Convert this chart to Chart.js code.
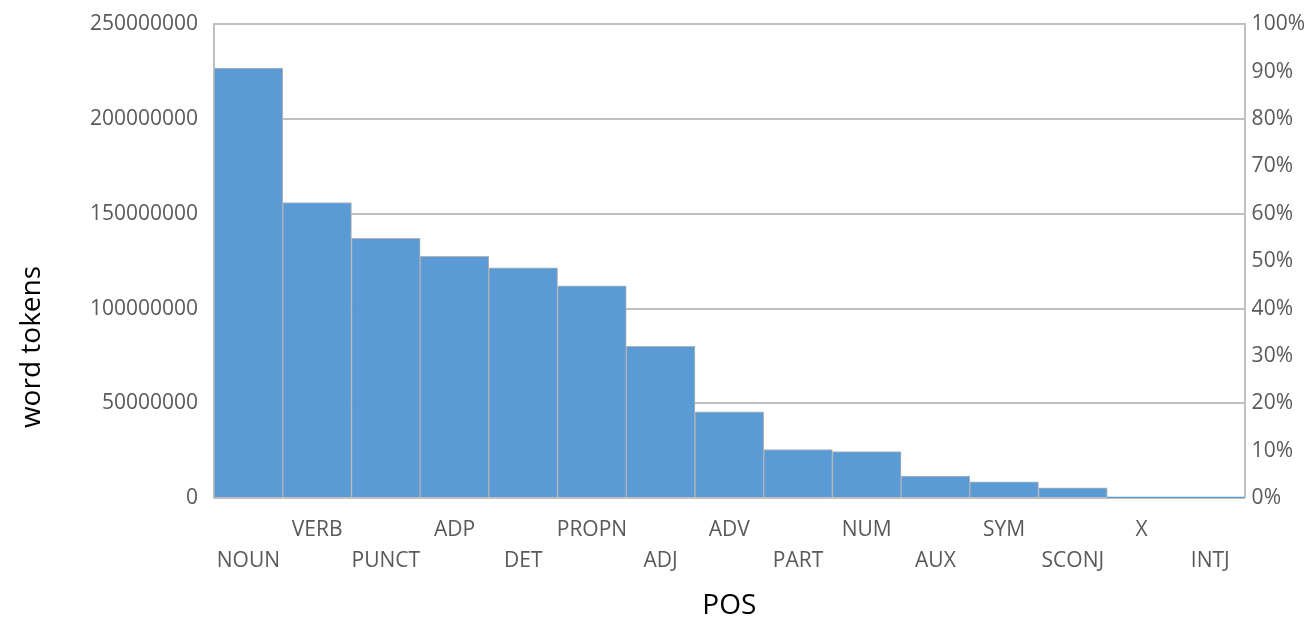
<!DOCTYPE html>
<html>
<head>
<meta charset="utf-8">
<script src="https://cdn.jsdelivr.net/npm/chart.js@4"></script>
<style>
  body { margin: 0; background: #fff; }
  #wrap { width: 1314px; height: 619px; }
</style>
</head>
<body>
<div id="wrap"><canvas id="pos-chart"></canvas></div>
<script>
// data
var categories = ['NOUN', 'VERB', 'PUNCT', 'ADP', 'DET', 'PROPN', 'ADJ', 'ADV', 'PART', 'NUM', 'AUX', 'SYM', 'SCONJ', 'X', 'INTJ'];
var tokens = [227000000, 156000000, 137000000, 127500000, 121500000, 112000000, 80000000, 45500000, 25500000, 24500000, 11500000, 8500000, 5300000, 100000, 50000];
var leftTicks = [0, 50000000, 100000000, 150000000, 200000000, 250000000];
var rightTicks = [0, 0.1, 0.2, 0.3, 0.4, 0.5, 0.6, 0.7, 0.8, 0.9, 1];

var gridGray = '#bfbfbf';
// small lineHeight only trims the space Chart.js keeps above the top label
var tickFont = { family: 'Open Sans', size: 21, lineHeight: 0.8 };

// the y title sits lower than the plot centre in the original,
// so it is drawn here instead of with the axis title option
var yTitlePlugin = {
    id: 'yTitle',
    afterDraw: function(chart) {
        var c = chart.ctx;
        c.save();
        c.translate(32, 347);
        c.rotate(-Math.PI / 2);
        c.font = '28px "Open Sans"';
        c.fillStyle = '#000';
        c.textAlign = 'center';
        c.textBaseline = 'middle';
        c.fillText('word tokens', 0, 0);
        c.restore();
    }
};

var ctx = document.getElementById('pos-chart').getContext('2d');
var chart = new Chart(ctx, {
    type: 'bar',
    data: {
        labels: categories,
        datasets: [{
            label: 'word tokens',
            data: tokens,
            backgroundColor: '#5b9bd5',
            borderColor: '#b4b4b4',
            // the tiny X / INTJ bars don't show up in the original
            borderWidth: function(c) { return c.raw < 1000000 ? 0 : 1; },
            categoryPercentage: 1,
            barPercentage: 1,
            yAxisID: 'y'
        }]
    },
    options: {
        responsive: true,
        maintainAspectRatio: false,
        animation: false,
        layout: { padding: { top: 0, right: 2, left: 74, bottom: 0 } },
        plugins: {
            legend: { display: false },
            tooltip: { enabled: false }
        },
        scales: {
            x: {
                grid: { display: false, drawTicks: false },
                border: { display: true, color: gridGray, width: 2 },
                ticks: {
                    color: '#595959',
                    font: { family: 'Open Sans', size: 21, lineHeight: 1.5 },
                    autoSkip: false,
                    maxRotation: 0,
                    padding: 16,
                    callback: function(value, index) {
                        var name = categories[index];
                        // staggered labels like the original
                        return index % 2 === 0 ? ['', name] : [name, ''];
                    }
                },
                title: {
                    display: true,
                    text: 'POS',
                    color: '#000',
                    font: { family: 'Open Sans', size: 28, lineHeight: 0.93 },
                    padding: 0
                }
            },
            y: {
                position: 'left',
                min: 0,
                max: 250000000,
                afterBuildTicks: function(axis) {
                    axis.ticks = leftTicks.map(function(v) { return { value: v }; });
                },
                grid: { color: gridGray, lineWidth: 2, drawTicks: false },
                border: { display: true, color: gridGray, width: 2 },
                ticks: {
                    color: '#595959',
                    font: tickFont,
                    padding: 16,
                    callback: function(v) { return String(v); }
                }
            },
            y1: {
                position: 'right',
                min: 0,
                max: 1,
                afterBuildTicks: function(axis) {
                    axis.ticks = rightTicks.map(function(v) { return { value: v }; });
                },
                grid: { display: false, drawTicks: false },
                border: { display: true, color: gridGray, width: 2 },
                ticks: {
                    color: '#595959',
                    font: tickFont,
                    padding: 7,
                    callback: function(v) { return Math.round(v * 100) + '%'; }
                }
            }
        }
    },
    plugins: [yTitlePlugin]
});
</script>
</body>
</html>
